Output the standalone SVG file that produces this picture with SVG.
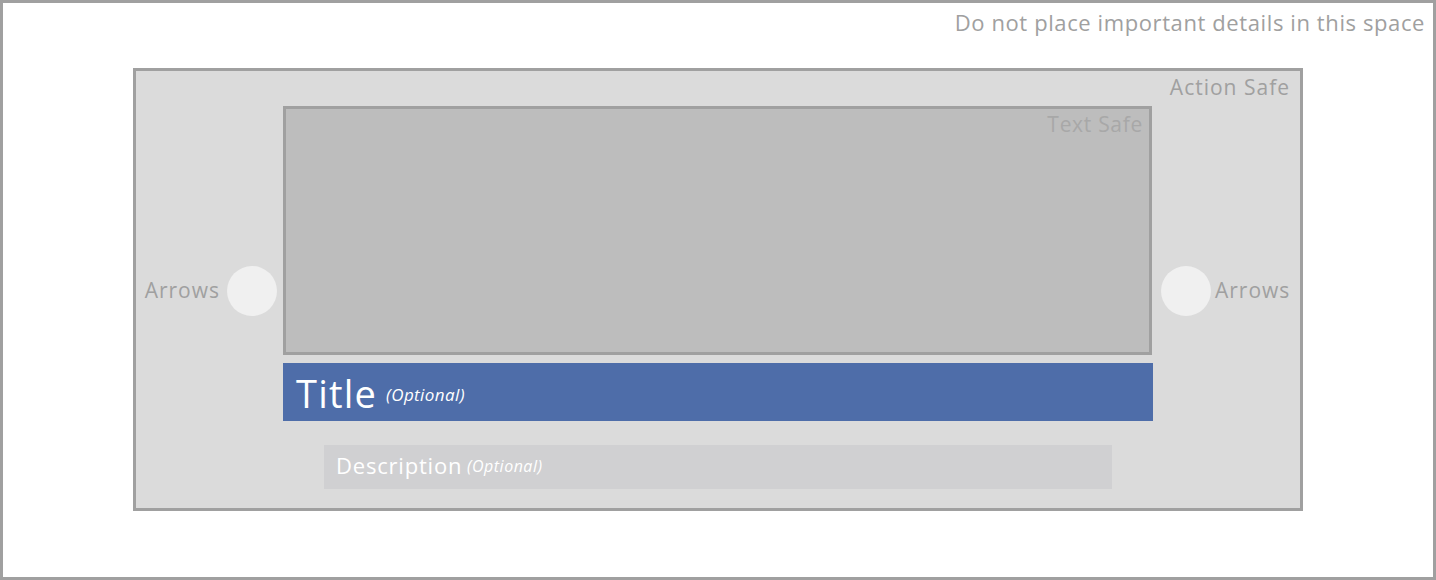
<svg xmlns="http://www.w3.org/2000/svg" width="1436" height="580" viewBox="0 0 1436 580">
<style>
.lbl{font-family:"Open Sans","Liberation Sans",sans-serif;fill:#a0a0a0}
.wt{font-family:"Open Sans","Liberation Sans",sans-serif;fill:#ffffff}
.it{font-style:italic}
</style>
<rect x="1.5" y="1.5" width="1433" height="577" fill="#ffffff" stroke="#a0a0a0" stroke-width="3"/>
<text class="lbl" x="1425" y="31" font-size="22" letter-spacing="0.6" text-anchor="end">Do not place important details in this space</text>
<g id="action-safe">
<rect x="134.5" y="69.5" width="1167" height="440" fill="#dbdbdb" stroke="#a0a0a0" stroke-width="3"/>
<text class="lbl" x="1290" y="95" font-size="21" letter-spacing="1" text-anchor="end">Action Safe</text>
</g>
<g id="text-safe">
<rect x="284.5" y="107.5" width="866" height="246" fill="#bdbdbd" stroke="#a0a0a0" stroke-width="3"/>
<text class="lbl" x="1143" y="132" font-size="21" letter-spacing="0.7" text-anchor="end" style="fill:#a8a8a8">Text Safe</text>
</g>
<g id="arrow-left">
<circle cx="252" cy="291" r="25" fill="#f0f0f0"/>
<text class="lbl" x="220" y="298" font-size="21" letter-spacing="1" text-anchor="end">Arrows</text>
</g>
<g id="arrow-right">
<circle cx="1186" cy="291" r="25" fill="#f0f0f0"/>
<text class="lbl" x="1215" y="298" font-size="21" letter-spacing="1">Arrows</text>
</g>
<g id="title">
<rect x="283" y="363" width="870" height="58" fill="#4e6da9"/>
<text class="wt" x="296" y="408" font-size="38" letter-spacing="1.2">Title</text>
<text class="wt it" x="386" y="401" font-size="17" letter-spacing="0.4">(Optional)</text>
</g>
<g id="description">
<rect x="324" y="445" width="788" height="44" fill="#d0d0d2"/>
<text class="wt" x="336" y="474" font-size="22" letter-spacing="0.8">Description</text>
<text class="wt it" x="467" y="472" font-size="16" letter-spacing="0.5">(Optional)</text>
</g>
<g id="connectors"/>
</svg>
